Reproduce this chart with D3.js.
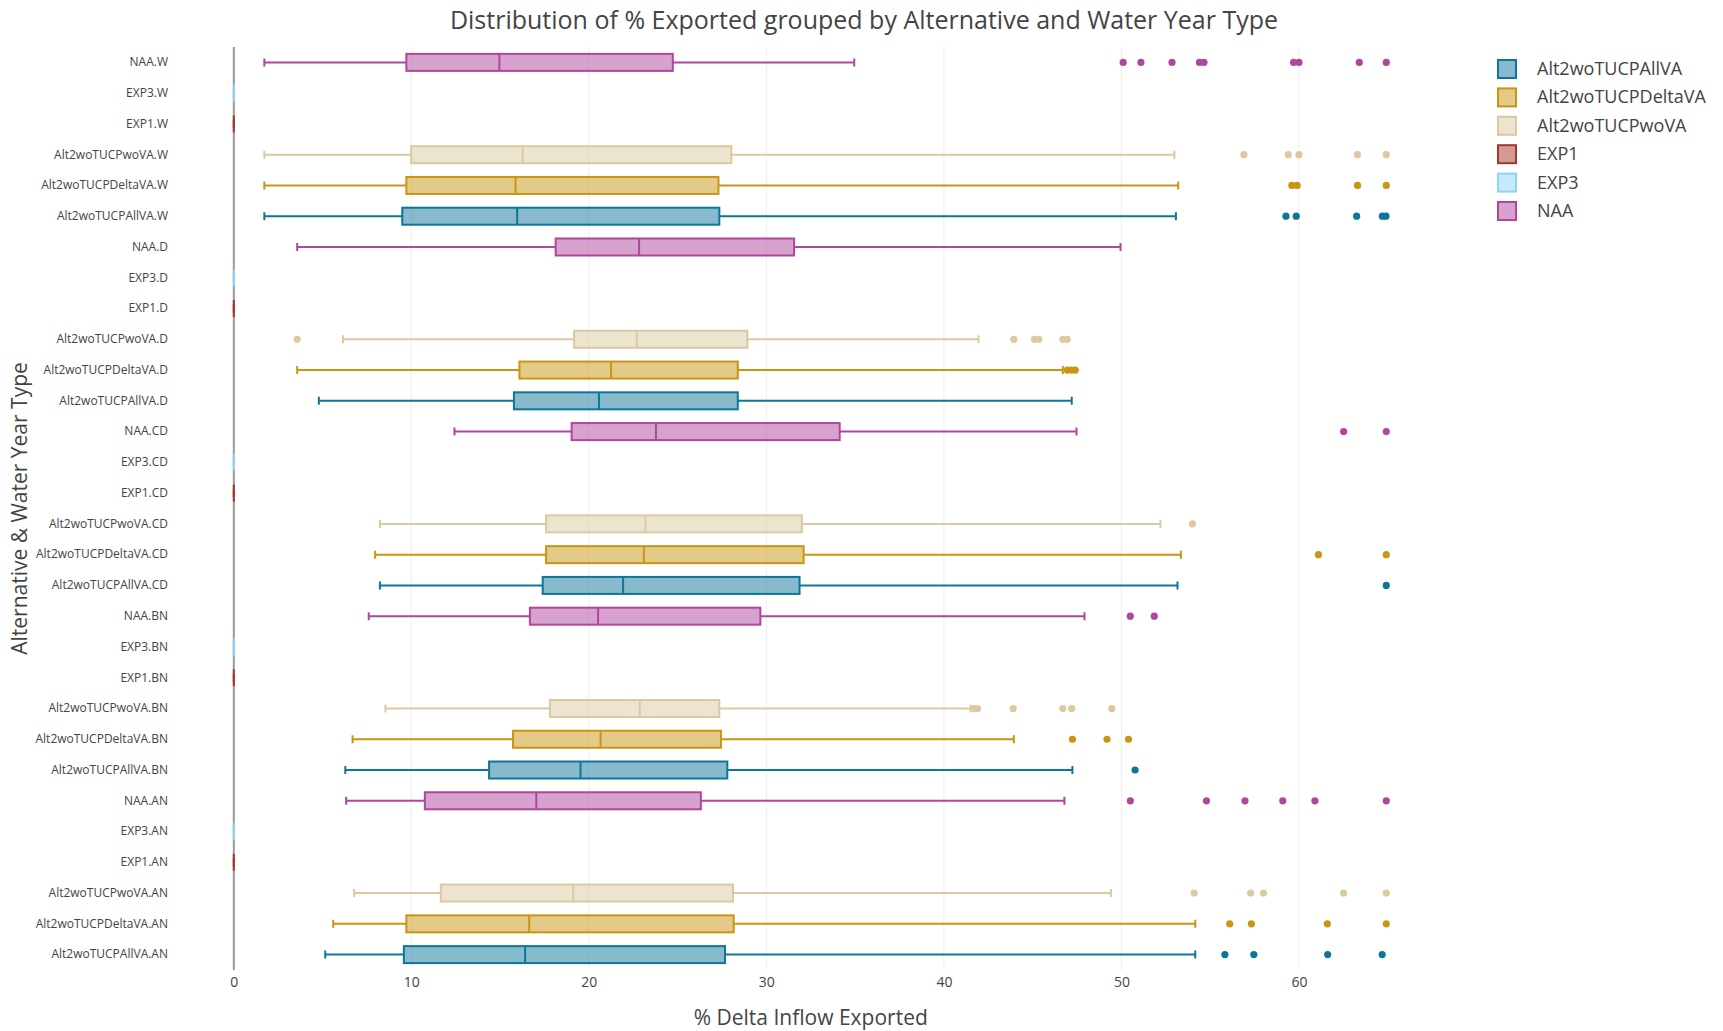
<!DOCTYPE html>
<html>
<head>
<meta charset="utf-8">
<script src="https://cdn.jsdelivr.net/npm/d3@7"></script>
<style>
  body { margin: 0; background: #fff; }
  text { font-family: "Open Sans", verdana, arial, sans-serif; fill: #444; }
</style>
</head>
<body>
<div id="chart"></div>
<script>
// categories
var yearTypes = ["AN", "BN", "CD", "D", "W"];
var alternatives = ["Alt2woTUCPAllVA", "Alt2woTUCPDeltaVA", "Alt2woTUCPwoVA", "EXP1", "EXP3", "NAA"];
var xTicks = [0, 10, 20, 30, 40, 50, 60];

// box stats per year type (AN, BN, CD, D, W): [low whisker, q1, median, q3, high whisker]
var allVAStats = [[5.15, 9.58, 16.41, 27.67, 54.16], [6.28, 14.38, 19.53, 27.8, 47.24], [8.23, 17.4, 21.93, 31.87, 53.16], [4.79, 15.78, 20.57, 28.39, 47.2], [1.72, 9.49, 15.96, 27.35, 53.07]];
var deltaVAStats = [[5.6, 9.72, 16.64, 28.16, 54.16], [6.69, 15.73, 20.66, 27.44, 43.94], [7.96, 17.59, 23.1, 32.1, 53.35], [3.57, 16.09, 21.25, 28.39, 46.7], [1.72, 9.72, 15.87, 27.3, 53.2]];
var woVAStats = [[6.78, 11.66, 19.12, 28.12, 49.41], [8.54, 17.81, 22.87, 27.35, 41.5], [8.23, 17.59, 23.19, 32.0, 52.2], [6.15, 19.17, 22.7, 28.93, 41.95], [1.72, 9.99, 16.27, 28.03, 52.98]];
var exp1Stats = [[0, 0, 0, 0, 0], [0, 0, 0, 0, 0], [0, 0, 0, 0, 0], [0, 0, 0, 0, 0], [0, 0, 0, 0, 0]];
var exp3Stats = [[0, 0, 0, 0, 0], [0, 0, 0, 0, 0], [0, 0, 0, 0, 0], [0, 0, 0, 0, 0], [0, 0, 0, 0, 0]];
var naaStats = [[6.33, 10.76, 17.04, 26.31, 46.79], [7.6, 16.68, 20.52, 29.66, 47.92], [12.43, 19.03, 23.78, 34.13, 47.47], [3.57, 18.13, 22.83, 31.56, 49.95], [1.72, 9.72, 14.96, 24.73, 34.95]];

// outliers per year type (AN, BN, CD, D, W)
var allVAOutliers = [[55.83, 57.46, 61.62, 64.69], [50.77], [64.92], [], [59.27, 59.85, 63.25, 64.7, 64.9]];
var deltaVAOutliers = [[56.1, 57.32, 61.6, 64.92], [47.24, 49.19, 50.4], [61.1, 64.92], [46.95, 47.2, 47.4], [59.6, 59.9, 63.3, 64.92]];
var woVAOutliers = [[54.1, 57.28, 58.0, 62.52, 64.92], [41.7, 41.9, 43.9, 46.7, 47.2, 49.46], [54.0], [3.57, 43.94, 45.1, 45.35, 46.7, 46.95], [56.9, 59.4, 60.0, 63.3, 64.92]];
var exp1Outliers = [[], [], [], [], []];
var exp3Outliers = [[], [], [], [], []];
var naaOutliers = [[50.5, 54.79, 56.96, 59.09, 60.9, 64.92], [50.5, 51.85], [62.52, 64.92], [], [50.1, 51.1, 52.85, 54.4, 54.65, 59.7, 60.0, 63.4, 64.92]];

var colors = ["#0e7699", "#c99512", "#dcc9a0", "#a5362a", "#8fd3f3", "#b0469d"];

function makeChart() {

  var svgWidth = 1723;
  var svgHeight = 1031;

  var plot = { left: 177, right: 1444.5, top: 47, bottom: 970 };

  var svg = d3.select("#chart")
    .append("svg")
    .attr("width", svgWidth)
    .attr("height", svgHeight);

  // build rows: year type blocks, alternatives inside
  var statsList = [allVAStats, deltaVAStats, woVAStats, exp1Stats, exp3Stats, naaStats];
  var outlierList = [allVAOutliers, deltaVAOutliers, woVAOutliers, exp1Outliers, exp3Outliers, naaOutliers];
  var rows = [];
  yearTypes.forEach(function(yt, i) {
    alternatives.forEach(function(alt, j) {
      var s = statsList[j][i];
      rows.push({
        label: alt + "." + yt,
        alt: j,
        lo: s[0], q1: s[1], med: s[2], q3: s[3], hi: s[4],
        outliers: outlierList[j][i]
      });
    });
  });

  // scales
  var xScale = d3.scaleLinear()
    .domain([-3.2, 68.2])
    .range([plot.left, plot.right]);

  // top row is the last one built
  var yScale = d3.scaleBand()
    .domain(rows.map(d => d.label).reverse())
    .range([plot.top, plot.bottom]);

  var bw = yScale.bandwidth();
  var boxH = 17;
  var capH = 8;

  // grid lines
  svg.append("g")
    .selectAll("line")
    .data(xTicks.filter(d => d !== 0))
    .enter()
    .append("line")
    .attr("x1", d => xScale(d))
    .attr("x2", d => xScale(d))
    .attr("y1", plot.top)
    .attr("y2", plot.bottom)
    .attr("stroke", "#eee")
    .attr("stroke-width", 1);

  // zero line
  svg.append("line")
    .attr("x1", xScale(0))
    .attr("x2", xScale(0))
    .attr("y1", plot.top)
    .attr("y2", plot.bottom)
    .attr("stroke", "#999")
    .attr("stroke-width", 2);

  // x axis
  var xAxis = d3.axisBottom(xScale).tickValues(xTicks).tickSize(0).tickPadding(0);
  var xg = svg.append("g")
    .attr("transform", `translate(0, ${plot.bottom + 7})`)
    .call(xAxis);
  xg.select(".domain").remove();
  xg.selectAll("text")
    .style("font-size", "14px")
    .style("font-family", "'Open Sans', verdana, arial, sans-serif")
    .attr("fill", "#444");

  // y axis
  var yAxis = d3.axisLeft(yScale).tickSize(0).tickPadding(0);
  var yg = svg.append("g")
    .attr("transform", `translate(${plot.left - 9}, 0)`)
    .call(yAxis);
  yg.select(".domain").remove();
  yg.selectAll("text")
    .style("font-size", "12px")
    .style("font-family", "'Open Sans', verdana, arial, sans-serif")
    .attr("fill", "#555");

  // boxes
  var boxes = svg.append("g")
    .selectAll("g")
    .data(rows)
    .enter()
    .append("g")
    .attr("transform", d => `translate(0, ${yScale(d.label) + bw / 2})`);

  // whiskers
  boxes.append("path")
    .attr("d", d => `M${xScale(d.lo)},0H${xScale(d.q1)}M${xScale(d.q3)},0H${xScale(d.hi)}` +
      `M${xScale(d.lo)},${-capH / 2}V${capH / 2}M${xScale(d.hi)},${-capH / 2}V${capH / 2}`)
    .attr("fill", "none")
    .attr("stroke", d => colors[d.alt])
    .attr("stroke-width", 2);

  boxes.append("rect")
    .attr("x", d => xScale(d.q1))
    .attr("y", -boxH / 2)
    .attr("width", d => xScale(d.q3) - xScale(d.q1))
    .attr("height", boxH)
    .attr("fill", d => colors[d.alt])
    .attr("fill-opacity", 0.5)
    .attr("stroke", d => colors[d.alt])
    .attr("stroke-width", 2);

  boxes.append("line")
    .attr("x1", d => xScale(d.med))
    .attr("x2", d => xScale(d.med))
    .attr("y1", -boxH / 2)
    .attr("y2", boxH / 2)
    .attr("stroke", d => colors[d.alt])
    .attr("stroke-width", 2);

  // outliers
  boxes.selectAll("circle")
    .data(d => d.outliers.map(v => ({ v: v, alt: d.alt })))
    .enter()
    .append("circle")
    .attr("cx", d => xScale(d.v))
    .attr("cy", 0)
    .attr("r", 3.6)
    .attr("fill", d => colors[d.alt]);

  // title
  svg.append("text")
    .attr("x", 864)
    .attr("y", 29)
    .attr("text-anchor", "middle")
    .style("font-size", "25px")
    .text("Distribution of % Exported grouped by Alternative and Water Year Type");

  // axis titles
  svg.append("text")
    .attr("x", (plot.left + plot.right) / 2)
    .attr("y", 1025)
    .attr("text-anchor", "middle")
    .style("font-size", "21px")
    .text("% Delta Inflow Exported");

  svg.append("text")
    .attr("transform", `translate(27, ${(plot.top + plot.bottom) / 2}) rotate(-90)`)
    .attr("text-anchor", "middle")
    .style("font-size", "21px")
    .text("Alternative & Water Year Type");

  // legend
  var legend = svg.append("g")
    .selectAll("g")
    .data(alternatives)
    .enter()
    .append("g")
    .attr("transform", (d, i) => `translate(1497, ${69 + i * 28.4})`);

  legend.append("rect")
    .attr("x", 1)
    .attr("y", -9)
    .attr("width", 18)
    .attr("height", 18)
    .attr("fill", (d, i) => colors[i])
    .attr("fill-opacity", 0.5)
    .attr("stroke", (d, i) => colors[i])
    .attr("stroke-width", 2);

  legend.append("text")
    .attr("x", 40)
    .attr("y", 6)
    .style("font-size", "18px")
    .text(d => d);
}

makeChart();
</script>
</body>
</html>
